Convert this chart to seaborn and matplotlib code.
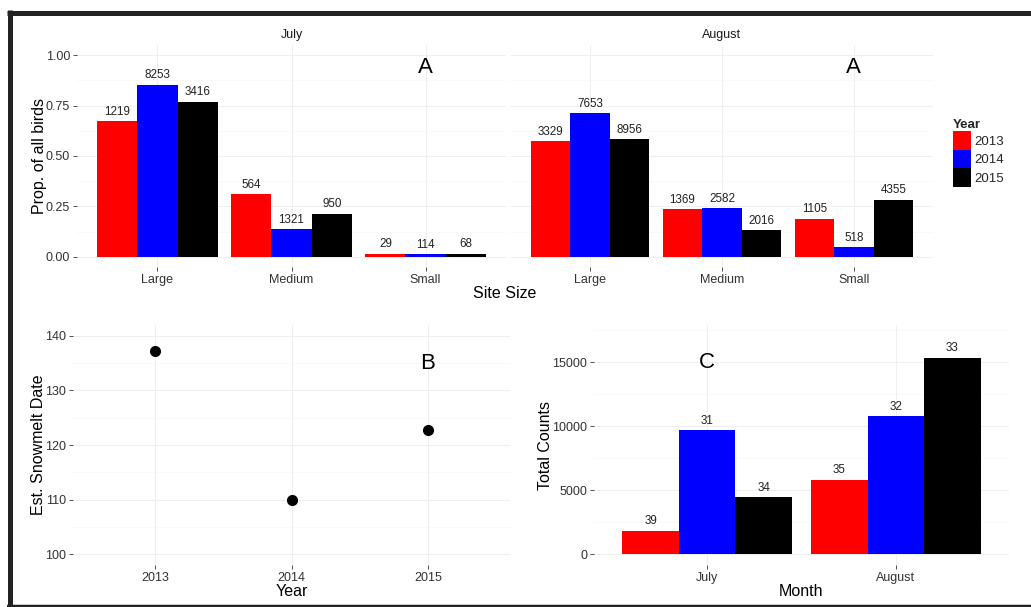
import numpy as np
import pandas as pd
import matplotlib
matplotlib.use("Agg")
import matplotlib.pyplot as plt
import seaborn as sns
from matplotlib.patches import Patch
from matplotlib.lines import Line2D
from matplotlib.ticker import FixedLocator

# ---------------- data ----------------
sizes = ["Large", "Medium", "Small"]
years = ["2013", "2014", "2015"]
months = ["July", "August"]
year_colors = ["#FF0000", "#0000FF", "#000000"]

# Panel A: proportion of all birds and counts (bar labels)
july_prop_2013 = [0.673, 0.311, 0.016]
july_prop_2014 = [0.852, 0.136, 0.012]
july_prop_2015 = [0.770, 0.214, 0.015]
july_n_2013 = [1219, 564, 29]
july_n_2014 = [8253, 1321, 114]
july_n_2015 = [3416, 950, 68]

aug_prop_2013 = [0.574, 0.236, 0.190]
aug_prop_2014 = [0.712, 0.240, 0.048]
aug_prop_2015 = [0.584, 0.132, 0.284]
aug_n_2013 = [3329, 1369, 1105]
aug_n_2014 = [7653, 2582, 518]
aug_n_2015 = [8956, 2016, 4355]

# Panel B: estimated snowmelt date
snowmelt = [137.3, 110.0, 122.7]

# Panel C: total counts and number of surveys (bar labels)
july_totals = [1812, 9688, 4434]
aug_totals = [5803, 10753, 15327]
july_surveys = [39, 31, 34]
aug_surveys = [35, 32, 33]

# ---------------- style ----------------
sns.set_theme(style="white")
plt.rcParams["font.family"] = ["Liberation Sans", "DejaVu Sans"]
TICK_C = "#333333"
GRID_MAJ = "#EFEFEF"
GRID_MIN = "#F7F7F7"

W, H = 1031, 607
fig = plt.figure(figsize=(W / 100, H / 100), dpi=100)
fig.patch.set_facecolor("white")


def px_axes(left, right, top, bottom):
    return fig.add_axes([left / W, 1 - bottom / H, (right - left) / W, (bottom - top) / H])


def style_ax(ax, show_y=True):
    for s in ax.spines.values():
        s.set_visible(False)
    ax.set_facecolor("white")
    ax.set_axisbelow(True)
    ax.grid(which="major", color=GRID_MAJ, lw=0.8)
    ax.grid(which="minor", axis="y", color=GRID_MIN, lw=0.5)
    ax.tick_params(which="major", length=3, width=0.6, color=TICK_C, pad=2,
                   labelsize=9, labelcolor=TICK_C, bottom=True, left=show_y,
                   labelleft=show_y)
    ax.tick_params(which="minor", length=0)


def bar_panel(ax, cats, vals, labels, show_y):
    df = pd.DataFrame({
        "cat": list(cats) * len(years),
        "year": [y for y in years for _ in cats],
        "val": [v for vs in vals for v in vs],
    })
    sns.barplot(data=df, x="cat", y="val", hue="year", order=cats, hue_order=years,
                palette=year_colors, width=0.9, saturation=1, linewidth=0,
                legend=False, ax=ax)
    for cont, labs in zip(ax.containers, labels):
        ax.bar_label(cont, labels=[str(l) for l in labs], padding=2.5,
                     fontsize=8.4, color="#222222")
    ax.set_xlim(-0.6, len(cats) - 0.4)
    ax.set_xlabel("")
    ax.set_ylabel("")
    style_ax(ax, show_y)


# ----- Panel A (July / August facets) -----
axJ = px_axes(77, 506, 45, 267)
axA = px_axes(511, 933, 45, 267)
for ax, props, ns, title in [
    (axJ, [july_prop_2013, july_prop_2014, july_prop_2015],
     [july_n_2013, july_n_2014, july_n_2015], "July"),
    (axA, [aug_prop_2013, aug_prop_2014, aug_prop_2015],
     [aug_n_2013, aug_n_2014, aug_n_2015], "August"),
]:
    bar_panel(ax, sizes, props, ns, show_y=(ax is axJ))
    ax.set_ylim(-0.05, 1.05)
    ax.yaxis.set_major_locator(FixedLocator([0, 0.25, 0.5, 0.75, 1.0]))
    ax.yaxis.set_minor_locator(FixedLocator([0.125, 0.375, 0.625, 0.875]))
    ax.set_title(title, fontsize=9, color="#1a1a1a", pad=5)
    ax.text(2, 0.94, "A", ha="center", va="center", fontsize=16, color="black")
axJ.set_yticklabels(["0.00", "0.25", "0.50", "0.75", "1.00"])
axJ.set_ylabel("Prop. of all birds", fontsize=11.5, color="black", labelpad=-1)
fig.text((77 + 933) / 2 / W, 1 - 293 / H, "Site Size", ha="center", va="center",
         fontsize=11.5, color="black")

# legend
handles = [Patch(facecolor=c, edgecolor="none") for c in year_colors]
leg = fig.legend(handles, years, title="Year", loc="upper left",
                 bbox_to_anchor=(953 / W, 1 - 119 / H), frameon=False,
                 fontsize=9.5, title_fontproperties={"weight": "bold", "size": 9.5},
                 handlelength=1.4, handleheight=1.8, handletextpad=0.25,
                 labelspacing=0.0, borderpad=0, borderaxespad=0, alignment="left")

# ----- Panel B -----
axB = px_axes(73, 510, 325, 565)
dfB = pd.DataFrame({"year": years, "date": snowmelt})
sns.stripplot(data=dfB, x="year", y="date", order=years, jitter=False,
              color="black", size=8, ax=axB)
axB.set_xlim(-0.6, 2.6)
axB.set_ylim(98, 142)
axB.yaxis.set_major_locator(FixedLocator([100, 110, 120, 130, 140]))
axB.yaxis.set_minor_locator(FixedLocator([105, 115, 125, 135]))
style_ax(axB)
axB.set_xlabel("Year", fontsize=11.5, color="black", labelpad=0)
axB.set_ylabel("Est. Snowmelt Date", fontsize=11.5, color="black", labelpad=-1)
axB.text(2, 135, "B", ha="center", va="center", fontsize=16, color="black")

# ----- Panel C -----
axC = px_axes(594, 1009, 325, 565)
bar_panel(axC, months, [[july_totals[i], aug_totals[i]] for i in range(3)],
          [[july_surveys[i], aug_surveys[i]] for i in range(3)], show_y=True)
axC.set_ylim(-850, 17900)
axC.yaxis.set_major_locator(FixedLocator([0, 5000, 10000, 15000]))
axC.yaxis.set_minor_locator(FixedLocator([2500, 7500, 12500, 17500]))
axC.set_yticklabels(["0", "5000", "10000", "15000"])
axC.set_xlabel("Month", fontsize=11.5, color="black", labelpad=0)
axC.set_ylabel("Total Counts", fontsize=11.5, color="black", labelpad=-1)
axC.text(0, 15000, "C", ha="center", va="center", fontsize=16, color="black")

# ----- outer frame -----
frame_c = "#222222"
fig.add_artist(Line2D([9.5 / W, 9.5 / W], [0, 1 - 10 / H], transform=fig.transFigure,
                      color=frame_c, lw=5 * 0.72, solid_capstyle="butt"))
fig.add_artist(Line2D([7 / W, 1], [1 - 12.5 / H, 1 - 12.5 / H], transform=fig.transFigure,
                      color=frame_c, lw=5 * 0.72, solid_capstyle="butt"))
fig.add_artist(Line2D([7 / W, 1], [1 - 606 / H, 1 - 606 / H], transform=fig.transFigure,
                      color=frame_c, lw=2.5 * 0.72, solid_capstyle="butt"))

fig.savefig("out.png", dpi=100, facecolor="white")
